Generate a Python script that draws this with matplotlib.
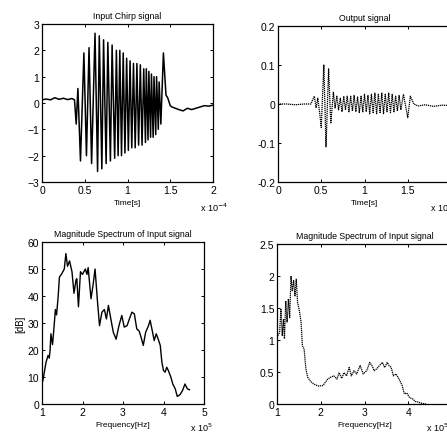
import matplotlib.pyplot as plt

# ---- input chirp signal (time in units of 1e-4 s) ----
chirp_t = [0.0, 0.05, 0.1, 0.15, 0.2, 0.25, 0.3, 0.35, 0.38,
           0.40, 0.42, 0.45, 0.49, 0.52, 0.55, 0.58, 0.62, 0.65, 0.67, 0.70,
           0.72, 0.75, 0.77, 0.80, 0.82, 0.85, 0.87, 0.89, 0.91, 0.93, 0.95,
           0.97, 0.99, 1.01, 1.03, 1.05, 1.07, 1.09, 1.11, 1.13, 1.15, 1.17,
           1.19, 1.21, 1.22, 1.24, 1.25, 1.27, 1.28, 1.30, 1.31, 1.33, 1.34,
           1.36, 1.37, 1.39, 1.42, 1.45, 1.47, 1.50, 1.52,
           1.56, 1.6, 1.65, 1.7, 1.75, 1.8, 1.85, 1.9, 1.95, 2.0]
chirp_v = [0.12, 0.15, 0.12, 0.2, 0.14, 0.18, 0.13, 0.17, 0.12,
           -0.8, 0.55, -2.2, 1.9, -2.0, 2.1, -2.3, 2.65, -2.6, 2.55, -2.5,
           2.4, -2.3, 2.3, -2.2, 2.2, -2.1, 2.0, -2.0, 2.0, -2.0, 1.9,
           -1.9, 1.7, -1.8, 1.6, -1.7, 1.5, -1.7, 1.5, -1.6, 1.45, -1.6,
           1.3, -1.5, 1.3, -1.4, 1.2, -1.3, 1.1, -1.3, 1.0, -1.2, 1.0,
           -1.0, 0.8, -0.8, 1.9, 0.3, 0.2, -0.1, -0.15,
           -0.2, -0.25, -0.3, -0.2, -0.25, -0.2, -0.15, -0.1, -0.12, -0.08]

# ---- output signal (time in units of 1e-4 s) ----
out_t = [0.0, 0.1, 0.2, 0.3, 0.38, 0.42, 0.44, 0.46, 0.48, 0.50, 0.53,
         0.555, 0.585, 0.61, 0.64, 0.66, 0.68, 0.70, 0.72, 0.74, 0.76,
         0.78, 0.80, 0.82, 0.84, 0.86, 0.88, 0.90, 0.92, 0.94, 0.96, 0.98,
         1.00, 1.02, 1.04, 1.06, 1.08, 1.10, 1.12, 1.14, 1.16, 1.18, 1.20,
         1.22, 1.24, 1.26, 1.28, 1.30, 1.32, 1.34, 1.36, 1.38, 1.40, 1.42,
         1.45, 1.50, 1.53, 1.57, 1.62, 1.7, 1.8, 1.9, 2.0]
out_v = [0.0, 0.0, -0.002, 0.0, 0.0, 0.02, -0.01, 0.015, -0.02, -0.06, 0.1,
         -0.11, 0.09, -0.05, 0.03, -0.01, 0.02, -0.015, 0.015, -0.02, 0.02,
         -0.015, 0.02, -0.02, 0.02, -0.018, 0.022, -0.02, 0.018, -0.022, 0.02,
         -0.02, 0.025, -0.02, 0.022, -0.025, 0.025, -0.022, 0.028, -0.025, 0.025,
         -0.022, 0.028, -0.025, 0.025, -0.02, 0.028, -0.022, 0.025, -0.02, 0.02,
         -0.018, 0.022, -0.015, 0.025, -0.035, 0.02, 0.0, -0.005, -0.002, -0.006,
         -0.003, -0.004]

# ---- magnitude spectrum of input (freq in units of 1e5 Hz, dB) ----
in_f = [1.0, 1.02, 1.1, 1.15, 1.18, 1.2, 1.22, 1.26, 1.3, 1.33, 1.36, 1.4,
        1.43, 1.49, 1.55, 1.59, 1.63, 1.68, 1.74, 1.79, 1.84, 1.86, 1.9,
        1.95, 2.0, 2.07, 2.11, 2.14, 2.21, 2.26, 2.31, 2.37, 2.42, 2.48,
        2.54, 2.59, 2.64, 2.7, 2.76, 2.83, 2.9, 2.97, 3.03, 3.1, 3.16, 3.22,
        3.28, 3.34, 3.4, 3.46, 3.5, 3.56, 3.63, 3.67, 3.73, 3.77, 3.82,
        3.87, 3.92, 3.96, 4.0, 4.04, 4.08, 4.12, 4.18, 4.23, 4.29, 4.34,
        4.41, 4.47, 4.53, 4.59, 4.64]
in_db = [10.5, 8.5, 15.5, 18, 17, 20, 26, 22, 29, 35, 33, 40,
         47, 48.3, 50, 55.7, 51, 53, 49, 41, 46, 46.4, 36,
         49, 48, 50, 48, 50.5, 39, 44, 50, 38, 29, 34,
         35, 31.5, 36.5, 31.5, 26.6, 24, 29, 32.8, 28.5, 29, 31.6, 34,
         33.4, 27.8, 27, 24, 21.7, 26.6, 29, 31, 26.6, 23.5, 26,
         24, 21.7, 15.5, 12.4, 11.8, 13.6, 12.4, 10, 7.4, 5.6, 2.8,
         3.5, 5, 7.4, 5.6, 5.3]

# ---- magnitude spectrum of output (freq in units of 1e5 Hz) ----
out_f = [1.0, 1.06, 1.09, 1.12, 1.15, 1.17, 1.2, 1.23, 1.26, 1.29, 1.32,
         1.35, 1.38, 1.41, 1.44, 1.47, 1.51, 1.55, 1.58, 1.62, 1.66, 1.7,
         1.76, 1.84, 1.95, 2.05, 2.16, 2.23, 2.3, 2.37, 2.42, 2.48, 2.53,
         2.59, 2.65, 2.7, 2.76, 2.82, 2.9, 2.97, 3.05, 3.12, 3.17, 3.22,
         3.28, 3.34, 3.41, 3.46, 3.52, 3.56, 3.61, 3.66, 3.72, 3.79, 3.86,
         3.91, 3.97, 4.03, 4.1, 4.16, 4.23, 4.31, 4.42]
out_mag = [1.04, 1.12, 1.48, 1.07, 1.33, 1.02, 1.61, 1.28, 1.64, 1.35, 2.0,
           1.77, 1.93, 1.69, 1.95, 1.59, 1.46, 1.28, 0.91, 0.86, 0.55, 0.42,
           0.36, 0.31, 0.28, 0.29, 0.39, 0.42, 0.44, 0.39, 0.49, 0.40, 0.49,
           0.44, 0.57, 0.44, 0.52, 0.47, 0.6, 0.47, 0.52, 0.65, 0.60, 0.52,
           0.55, 0.6, 0.65, 0.57, 0.65, 0.6, 0.57, 0.44, 0.47, 0.39, 0.29,
           0.16, 0.17, 0.1, 0.08, 0.04, 0.03, 0.01, 0.0]

plt.rcParams['font.family'] = ['Liberation Sans', 'DejaVu Sans']
plt.rcParams['font.size'] = 7

fig = plt.figure(figsize=(4.47, 4.39), dpi=100)

W, H = 447.0, 439.0
def add_ax(l, r, t, b):
    return fig.add_axes([l / W, 1 - b / H, (r - l) / W, (b - t) / H])

ax1 = add_ax(42, 213, 25, 183)
ax2 = add_ax(278, 451, 27, 183)
ax3 = add_ax(42, 204, 243, 405)
ax4 = add_ax(277, 452, 245, 405)

TITLE_FS = 6.3
LABEL_FS = 6

ax1.plot(chirp_t, chirp_v, color='black', lw=1.1)
ax1.set_xlim(0, 2)
ax1.set_ylim(-3, 3)
ax1.set_xticks([0, 0.5, 1, 1.5, 2])
ax1.set_xticklabels(['0', '0.5', '1', '1.5', '2'])
ax1.set_yticks([-3, -2, -1, 0, 1, 2, 3])
ax1.set_title('Input Chirp signal', fontsize=TITLE_FS, pad=4)
ax1.set_xlabel('Time[s]', fontsize=LABEL_FS, labelpad=3)

ax2.plot(out_t, out_v, color='black', lw=0.9, linestyle=(0, (1, 0.6)))
ax2.set_xlim(0, 2)
ax2.set_ylim(-0.2, 0.2)
ax2.set_xticks([0, 0.5, 1, 1.5, 2])
ax2.set_xticklabels(['0', '0.5', '1', '1.5', '2'])
ax2.set_yticks([-0.2, -0.1, 0, 0.1, 0.2])
ax2.set_yticklabels(['-0.2', '-0.1', '0', '0.1', '0.2'])
ax2.set_title('Output signal', fontsize=TITLE_FS, pad=4)
ax2.set_xlabel('Time[s]', fontsize=LABEL_FS, labelpad=3)

ax3.plot(in_f, in_db, color='black', lw=1.0)
ax3.set_xlim(1, 5)
ax3.set_ylim(0, 60)
ax3.set_xticks([1, 2, 3, 4, 5])
ax3.set_yticks([0, 10, 20, 30, 40, 50, 60])
ax3.set_title('Magnitude Spectrum of Input signal', fontsize=TITLE_FS, pad=4)
ax3.set_xlabel('Frequency[Hz]', fontsize=LABEL_FS, labelpad=3)
ax3.set_ylabel('[dB]', fontsize=7, labelpad=2)

ax4.plot(out_f, out_mag, color='black', lw=0.9, linestyle=(0, (1, 0.6)))
ax4.set_xlim(1, 5)
ax4.set_ylim(0, 2.5)
ax4.set_xticks([1, 2, 3, 4, 5])
ax4.set_yticks([0, 0.5, 1, 1.5, 2, 2.5])
ax4.set_yticklabels(['0', '0.5', '1', '1.5', '2', '2.5'])
ax4.set_title('Magnitude Spectrum of Input signal', fontsize=TITLE_FS, pad=4)
ax4.set_xlabel('Frequency[Hz]', fontsize=LABEL_FS, labelpad=3)

for ax in (ax1, ax2, ax3, ax4):
    ax.tick_params(direction='in', length=2.5, width=0.7, top=True, right=True,
                   labelsize=7.5, pad=2)
    for s in ax.spines.values():
        s.set_linewidth(0.9)

fig.text(200 / W, 1 - 212 / H, 'x 10$^{-4}$', fontsize=6.5)
fig.text(430 / W, 1 - 212 / H, 'x 10$^{-4}$', fontsize=6.5)
fig.text(190 / W, 1 - 432 / H, 'x 10$^{5}$', fontsize=6.5)
fig.text(426 / W, 1 - 432 / H, 'x 10$^{5}$', fontsize=6.5)

fig.savefig('out.png', dpi=100)
